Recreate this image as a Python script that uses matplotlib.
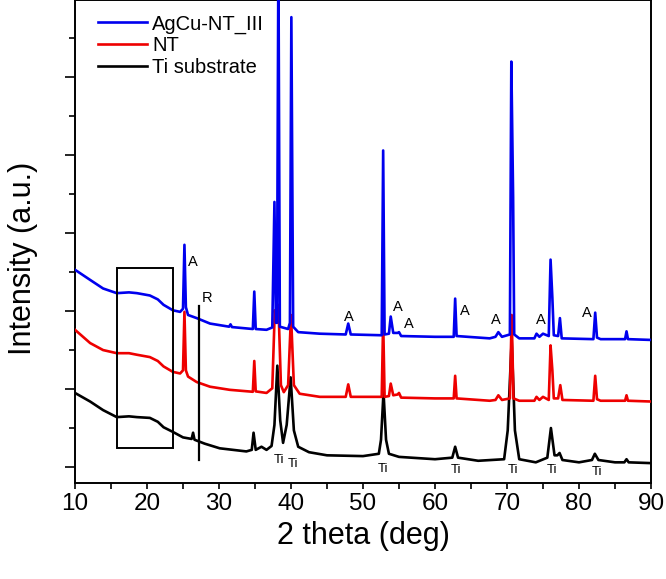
import matplotlib
matplotlib.use("Agg")
import matplotlib.pyplot as plt
from matplotlib.patches import Rectangle
from matplotlib.ticker import MultipleLocator

plt.rcParams['font.family'] = ['Liberation Sans', 'DejaVu Sans']

# Ti substrate (black)
ti_x = [10, 12.1, 13.9, 15.8, 17.5, 18.6, 20.4, 21.5, 22.3, 23.6, 25.0, 26.2, 26.4, 26.6,
        28.0, 30.1, 33.8, 34.55, 34.8, 35.1, 35.9, 36.6, 37.3, 37.7, 38.1, 38.5, 38.9,
        39.4, 39.95, 40.4, 41.0, 42.5, 45.0, 50.0, 52.2, 52.5, 52.85, 53.2, 53.6, 55, 60,
        62.4, 62.8, 63.2, 66, 69.6, 70.1, 70.65, 71.1, 71.7, 74, 75.6, 76.1, 76.6, 77.0,
        77.3, 77.7, 80, 81.8, 82.2, 82.7, 85, 86.3, 86.6, 86.9, 90]
ti_y = [950, 840, 730, 640, 650, 640, 630, 580, 510, 450, 380, 360, 440, 350,
        300, 240, 200, 220, 440, 220, 260, 220, 270, 540, 1300, 600, 310,
        540, 1150, 470, 260, 190, 150, 140, 170, 350, 960, 350, 170, 130, 100,
        120, 260, 120, 80, 100, 470, 1630, 470, 100, 60, 120, 500, 150, 150,
        180, 90, 60, 90, 170, 90, 60, 60, 100, 60, 50]

# NT (red)
nt_x = [10, 12.1, 13.9, 15.8, 17.5, 18.6, 20.4, 21.5, 22.3, 23.6, 24.6, 25.0, 25.2, 25.4,
        25.7, 26.9, 28.75, 31.5, 34.7, 34.9, 35.1, 36.6, 37.4, 37.75, 38.0, 38.25, 38.6,
        39.0, 39.6, 40.0, 40.4, 41.2, 44, 47.6, 47.95, 48.3, 52.6, 52.8, 53.0, 53.6,
        53.85, 54.2, 54.8, 55.0, 55.3, 60, 62.6, 62.8, 63.0, 67.6, 68.4, 68.8, 69.3,
        70.4, 70.65, 70.9, 71.7, 73.8, 74.1, 74.5, 75.0, 75.8, 76.05, 76.3, 76.5, 77.1,
        77.4, 77.7, 82.0, 82.25, 82.5, 83.0, 86.4, 86.6, 86.8, 90]
nt_y = [1760, 1590, 1500, 1460, 1460, 1440, 1410, 1360, 1290, 1220, 1200, 1240, 1990, 1240,
        1160, 1090, 1030, 990, 965, 1360, 970, 950, 1010, 2010, 1850, 2080, 1050,
        960, 1050, 1950, 1050, 940, 900, 900, 1060, 900, 900, 1880, 900, 910,
        1070, 920, 930, 950, 890, 880, 880, 1170, 880, 850, 860, 920, 860,
        880, 1950, 880, 850, 850, 900, 860, 900, 860, 1560, 1240, 880, 880,
        1050, 860, 850, 1170, 870, 850, 850, 920, 850, 840]

# AgCu-NT_III (blue)
ag_x = [10, 12.1, 13.9, 15.8, 17.5, 18.6, 20.4, 21.5, 22.3, 23.6, 24.6, 25.0, 25.2, 25.4,
        25.7, 26.9, 28.75, 31.4, 31.6, 31.8, 34.7, 34.9, 35.1, 36.6, 37.4, 37.7, 37.9,
        38.05, 38.25, 38.45, 39.6, 39.85, 40.05, 40.3, 41.0, 44, 47.6, 47.95, 48.3, 52.6,
        52.8, 53.0, 53.6, 53.85, 54.2, 54.8, 55.0, 55.3, 60, 62.6, 62.8, 63.0, 67.6, 68.4,
        68.8, 69.3, 70.4, 70.6, 70.85, 71.0, 71.7, 73.8, 74.1, 74.5, 75.0, 75.8, 76.05,
        76.3, 76.5, 77.1, 77.35, 77.6, 82.0, 82.25, 82.5, 83.0, 86.4, 86.6, 86.8, 90]
ag_y = [2530, 2400, 2290, 2230, 2240, 2230, 2200, 2150, 2080, 2010, 1990, 2030, 2850, 2050,
        1950, 1910, 1840, 1800, 1830, 1795, 1770, 2250, 1770, 1760, 1790, 3400, 1850,
        1850, 6600, 1800, 1770, 1850, 5770, 1800, 1730, 1710, 1700, 1840, 1700, 1690,
        4060, 1700, 1710, 1930, 1720, 1720, 1730, 1680, 1670, 1670, 2160, 1680, 1650, 1670,
        1730, 1670, 1700, 5200, 3460, 1700, 1650, 1650, 1710, 1670, 1710, 1680, 2660,
        2170, 1690, 1680, 1910, 1650, 1640, 1980, 1660, 1640, 1640, 1740, 1640, 1630]

# peak labels
a_x = [26.4, 48.1, 54.8, 56.3, 64.2, 68.4, 74.7, 81.1]
a_y = [2630, 1930, 2050, 1840, 2000, 1880, 1880, 1970]
ti_lab_x = [38.4, 40.3, 52.8, 62.9, 70.9, 76.2, 82.5]
ti_lab_y = [90, 35, -30, -40, -40, -40, -60]

fig = plt.figure(figsize=(6.66, 5.79), dpi=100)
ax = fig.add_axes([75/666, 96/579, 576/666, 483/579])

ax.plot(ti_x, ti_y, color='black', lw=1.9, label='Ti substrate', zorder=2,
        solid_joinstyle='round')
ax.plot(nt_x, nt_y, color='#ee0000', lw=1.9, label='NT', zorder=3,
        solid_joinstyle='round')
ax.plot(ag_x, ag_y, color='#0000ee', lw=1.9, label='AgCu-NT_III', zorder=4,
        solid_joinstyle='round')

for x, y in zip(a_x, a_y):
    ax.text(x, y, 'A', fontsize=10.5, ha='center', va='center')
for x, y in zip(ti_lab_x, ti_lab_y):
    ax.text(x, y, 'Ti', fontsize=9.5, ha='center', va='center')

# rutile marker and highlight box
ax.plot([27.2, 27.2], [90, 2060], color='black', lw=1.6, zorder=5)
ax.text(28.4, 2170, 'R', fontsize=10.5, ha='center', va='center')
ax.add_patch(Rectangle((15.8, 250), 23.6 - 15.8, 2550 - 250, fill=False,
                       edgecolor='black', lw=1.4, zorder=5))

ax.set_xlim(10, 90)
ax.set_ylim(-205, 5990)
ax.xaxis.set_major_locator(MultipleLocator(10))
ax.xaxis.set_minor_locator(MultipleLocator(5))
ax.yaxis.set_major_locator(MultipleLocator(1000))
ax.yaxis.set_minor_locator(MultipleLocator(500))
ax.set_yticklabels([])
ax.tick_params(axis='x', which='both', direction='out', length=4.5, width=1.2,
               labelsize=17.5, pad=3)
ax.tick_params(axis='y', which='major', direction='out', length=7.5, width=1.2)
ax.tick_params(axis='y', which='minor', direction='out', length=4, width=1.2)
for s in ax.spines.values():
    s.set_linewidth(1.4)

ax.set_xlabel('2 theta (deg)', fontsize=22, labelpad=4)
ax.set_ylabel('Intensity (a.u.)', fontsize=22)
ax.yaxis.set_label_coords(-0.064, 0.466)

h, l = ax.get_legend_handles_labels()
ax.legend(h[::-1], l[::-1], loc='upper left', bbox_to_anchor=(0.04, 0.97),
          frameon=False, fontsize=14.5, handlelength=2.45, handletextpad=0.25,
          labelspacing=0.12, borderpad=0, borderaxespad=0)

fig.savefig('out.png', dpi=100)
